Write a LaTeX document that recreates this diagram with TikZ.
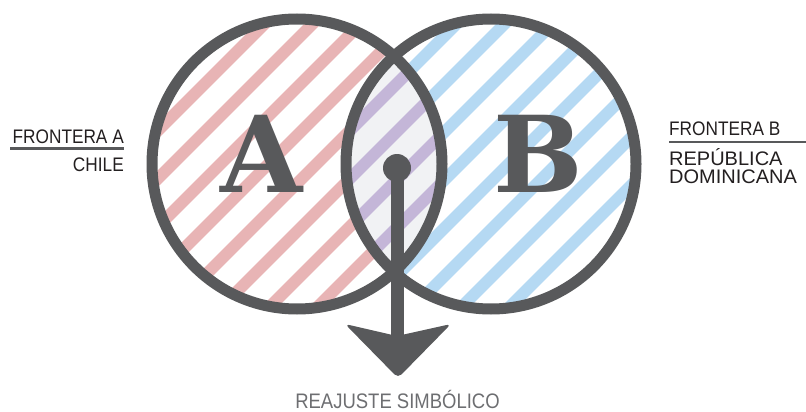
\documentclass[tikz,border=0pt]{standalone}
\usepackage{fontspec}
\setmainfont{Liberation Sans}
\newfontfamily\labelfont[FakeStretch=0.88]{Liberation Sans}
\newfontfamily\widefont[FakeStretch=1.02]{Liberation Sans}
\newfontfamily\letterfont{DejaVu Serif}
\definecolor{ringgray}{HTML}{58595B}
\definecolor{stripered}{HTML}{E8B4B5}
\definecolor{stripeblue}{HTML}{B5D9F3}
\definecolor{stripepurple}{HTML}{C4B6D8}
\definecolor{lensgray}{HTML}{F1F2F4}
\definecolor{labelblack}{HTML}{231F20}
\definecolor{captiongray}{HTML}{6D6E71}
\begin{document}
\begin{tikzpicture}[x=1pt,y=-1pt,
  ring/.style={draw=ringgray,line width=11pt},
  stripes/.style={line width=12pt},
  lbl/.style={inner sep=0pt,text=labelblack,font=\labelfont\fontsize{19.6}{20}\selectfont},
  rule/.style={draw=ringgray,line width=2.5pt},
  bigletter/.style={inner sep=0pt,text=ringgray,font=\letterfont\bfseries\fontsize{106}{106}\selectfont}]
\useasboundingbox (0,0) rectangle (806,412);
\coordinate (cA) at (297,164);
\coordinate (cB) at (491,164);
% red stripes in circle A
\begin{scope}
  \clip (cA) circle (145);
  \foreach \k in {0,...,26}{
    \draw[stripes,stripered] ({288.5+48*\k+60},-60) -- ({288.5+48*\k-480},480);
  }
\end{scope}
% blue stripes in circle B
\begin{scope}
  \clip (cB) circle (145);
  \foreach \k in {-6,...,26}{
    \draw[stripes,stripeblue] ({288.5+48*\k+60},-60) -- ({288.5+48*\k-480},480);
  }
\end{scope}
% lens
\begin{scope}
  \clip (cA) circle (145);
  \clip (cB) circle (145);
  \fill[lensgray] (0,0) rectangle (806,412);
  \foreach \k in {-6,...,26}{
    \draw[stripes,stripepurple] ({288.5+48*\k+60},-60) -- ({288.5+48*\k-480},480);
  }
\end{scope}
% rings
\draw[ring] (cA) circle (145);
\draw[ring] (cB) circle (145);
% letters
\node[bigletter,anchor=base] (A) at (262,192) {A};
\node[bigletter,anchor=base] (B) at (538,192) {B};
% arrow
\node[circle,fill=ringgray,minimum size=28pt,inner sep=0pt] (dot) at (397,168) {};
\coordinate (stemend) at (397,336);
\draw[draw=ringgray,line width=13pt] (dot.center) -- (stemend);
\fill[ringgray,rounded corners=5pt] (345,324) -- (stemend) -- (451,324) -- (398,378) -- cycle;
% left labels
\node[lbl,anchor=base east] (fa) at (124,143) {FRONTERA A};
\node[lbl,anchor=base east] (chile) at (124,171) {CHILE};
\coordinate (ruleAstart) at (10,148.5);
\coordinate (ruleAend) at (124,148.5);
\draw[rule] (ruleAstart) -- (ruleAend);
% right labels
\node[lbl,anchor=base west] (fb) at (669,135) {FRONTERA B};
\coordinate (ruleBstart) at (669,142);
\coordinate (ruleBend) at (806,142);
\draw[rule] (ruleBstart) -- (ruleBend);
\node[lbl,anchor=base west,align=left,font=\widefont\fontsize{19.6}{18}\selectfont] (rep) at (669,183) {REPÚBLICA\\DOMINICANA};
% caption
\node[inner sep=0pt,anchor=base,text=captiongray,font=\labelfont\fontsize{21}{21}\selectfont] (cap) at (397.5,408.5) {REAJUSTE SIMBÓLICO};
\end{tikzpicture}
\end{document}
